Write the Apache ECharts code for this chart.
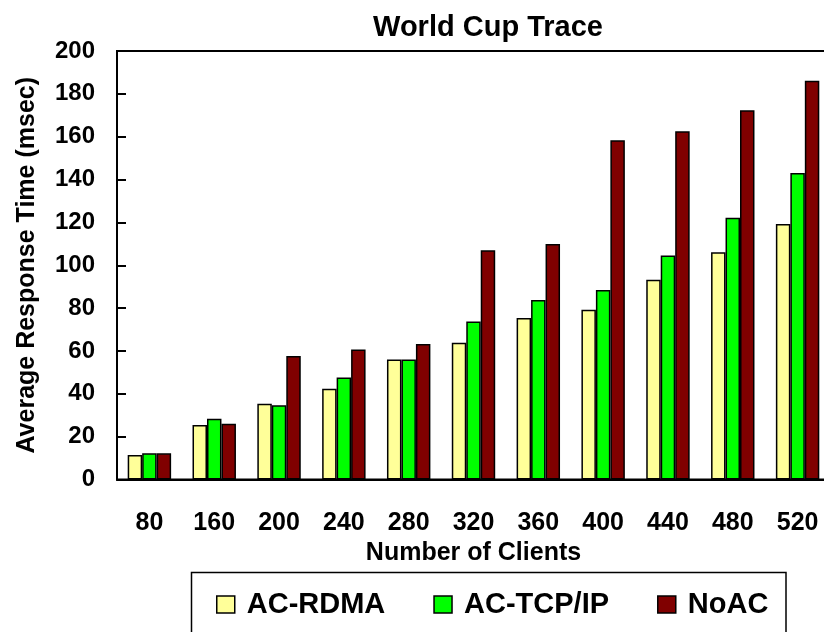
<!DOCTYPE html>
<html>
<head>
<meta charset="utf-8">
<script src="https://cdn.jsdelivr.net/npm/echarts@6/dist/echarts.min.js"></script>
<style>html,body{margin:0;padding:0;background:#fff}#c{width:824px;height:632px}</style>
</head>
<body>
<div id="c"></div>
<script>
const categories = ['80','160','200','240','280','320','360','400','440','480','520'];
const acRdma  = [11.4, 25.4, 35.3, 42.3, 56.0, 63.8, 75.4, 79.2, 93.2, 106.1, 119.3];
const acTcpIp = [12.2, 28.4, 34.6, 47.6, 56.0, 73.8, 83.8, 88.5, 104.5, 122.2, 143.0];
const noAc    = [12.2, 26.0, 57.6, 60.7, 63.2, 107.0, 109.9, 158.4, 162.5, 172.3, 186.1];
const seriesNames = ['AC-RDMA', 'AC-TCP/IP', 'NoAC'];
const yTicks = { min: 0, max: 200, interval: 20 };

const FONT = '"Liberation Sans", Arial, Helvetica, sans-serif';
const colors = ['#FFFF99', '#00FF00', '#800000'];
const chart = echarts.init(document.getElementById('c'), null, { renderer: 'canvas' });
const mk = (name, data, i) => ({
  name, type: 'bar', data,
  barGap: '0%', barCategoryGap: '33%',
  itemStyle: { color: colors[i], borderColor: '#000', borderWidth: 1.5 },
  emphasis: { disabled: true }
});
chart.setOption({
  animation: false,
  backgroundColor: '#fff',
  title: {
    text: 'World Cup Trace', left: 483, top: 8, textAlign: 'center',
    textStyle: { fontFamily: FONT, fontWeight: 'bold', fontSize: 29, color: '#000' }
  },
  grid: { left: 117, top: 51, width: 713, bottom: 152.5, show: true, borderColor: '#000', borderWidth: 2,
          containLabel: false, outerBoundsMode: 'none' },
  xAxis: {
    type: 'category', data: categories,
    axisLine: { lineStyle: { color: '#000', width: 2 } },
    axisTick: { inside: true, length: 9, lineStyle: { color: '#000', width: 2 } },
    axisLabel: { margin: 31, fontFamily: FONT, fontWeight: 'bold', fontSize: 25, color: '#000' },
    name: 'Number of Clients', nameLocation: 'middle', nameGap: 61,
    nameTextStyle: { fontFamily: FONT, fontWeight: 'bold', fontSize: 25, color: '#000' }
  },
  yAxis: {
    type: 'value', min: yTicks.min, max: yTicks.max, interval: yTicks.interval,
    axisLine: { show: true, lineStyle: { color: '#000', width: 2 } },
    axisTick: { show: true, inside: true, length: 9, lineStyle: { color: '#000', width: 2 } },
    splitLine: { show: false },
    axisLabel: { margin: 22, fontFamily: FONT, fontWeight: 'bold', fontSize: 24, color: '#000' },
    name: 'Average Response Time (msec)', nameLocation: 'middle', nameGap: 77, nameRotate: 90,
    nameTextStyle: { fontFamily: FONT, fontWeight: 'bold', fontSize: 25, color: '#000' }
  },
  legend: {
    data: seriesNames, left: 216, top: 590, itemGap: 48, padding: 0,
    itemWidth: 18, itemHeight: 17, icon: 'rect',
    itemStyle: { borderColor: '#000', borderWidth: 1.5 },
    textStyle: { fontFamily: FONT, fontWeight: 'bold', fontSize: 29, color: '#000', padding: [0, 0, 0, 7] },
    selectedMode: false
  },
  graphic: [{
    type: 'rect', shape: { x: 191.5, y: 572.5, width: 594.5, height: 80 },
    style: { fill: 'none', stroke: '#000', lineWidth: 1.5 }, silent: true
  }],
  series: [mk(seriesNames[0], acRdma, 0), mk(seriesNames[1], acTcpIp, 1), mk(seriesNames[2], noAc, 2)]
});
</script>
</body>
</html>
